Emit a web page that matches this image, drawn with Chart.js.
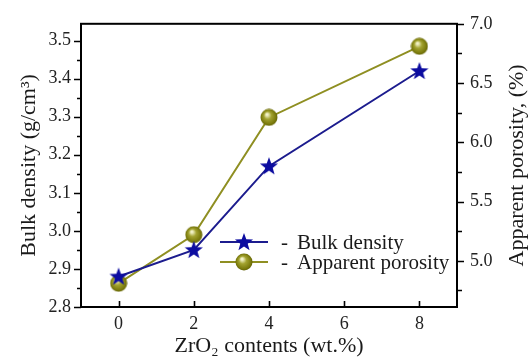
<!DOCTYPE html>
<html>
<head>
<meta charset="utf-8">
<script src="https://cdn.jsdelivr.net/npm/chart.js@4.4.1/dist/chart.umd.min.js"></script>
<style>
  html, body { margin: 0; padding: 0; background: #fff; }
  #wrap { width: 530px; height: 363px; position: relative; }
</style>
</head>
<body>
<div id="wrap"><canvas id="c" width="530" height="363"></canvas></div>
<script>
// ---- data ----
const zro2Contents = [0, 2, 4, 8];
const bulkDensity = [2.88, 2.95, 3.17, 3.42];
const apparentPorosity = [4.81, 5.22, 6.21, 6.81];

const xTicks = [0, 2, 4, 6, 8];
const yMajorTicks = [2.8, 2.9, 3.0, 3.1, 3.2, 3.3, 3.4, 3.5];
const yMinorTicks = [2.85, 2.95, 3.05, 3.15, 3.25, 3.35, 3.45];
const y2MajorTicks = [5.0, 5.5, 6.0, 6.5, 7.0];
const y2MinorTicks = [4.75, 5.25, 5.75, 6.25, 6.75];

const xTitle = 'ZrO\u2082 contents (wt.%)';
const yTitle = 'Bulk density (g/cm\u00B3)';
const y2Title = 'Apparent porosity, (%)';
const legendLabels = ['Bulk density', 'Apparent porosity'];

const BLUE = '#1c1c8e';
const OLIVE = '#8f8f22';
const SERIF = '"Liberation Serif", "Times New Roman", serif';

// ---- marker images ----
function makeStar() {
  const c = document.createElement('canvas');
  c.width = 22; c.height = 22;
  const g = c.getContext('2d');
  g.beginPath();
  const cx = 11, cy = 11.5, R = 9.5, r = 3.9;
  for (let i = 0; i < 10; i++) {
    const rad = i % 2 === 0 ? R : r;
    const a = -Math.PI / 2 + i * Math.PI / 5;
    const px = cx + rad * Math.cos(a), py = cy + rad * Math.sin(a);
    if (i === 0) g.moveTo(px, py); else g.lineTo(px, py);
  }
  g.closePath();
  g.fillStyle = '#0c0ca0';
  g.fill();
  return c;
}
function makeSphere() {
  const c = document.createElement('canvas');
  c.width = 18; c.height = 18;
  const g = c.getContext('2d');
  const grad = g.createRadialGradient(7, 6, 1, 9, 9, 9);
  grad.addColorStop(0, '#f2f2c8');
  grad.addColorStop(0.35, '#a3a330');
  grad.addColorStop(0.8, '#7a7a0c');
  grad.addColorStop(1, '#5c5c04');
  g.beginPath();
  g.arc(9, 9, 8.5, 0, Math.PI * 2);
  g.fillStyle = grad;
  g.fill();
  return c;
}
const starImg = makeStar();
const sphereImg = makeSphere();

// ---- custom frame, ticks, right title and legend ----
const framePlugin = {
  id: 'frame',
  beforeDatasetsDraw(chart) {
    const { ctx, chartArea: a, scales } = chart;
    ctx.save();
    ctx.strokeStyle = '#000';
    ctx.lineWidth = 2;
    ctx.strokeRect(a.left, a.top, a.right - a.left, a.bottom - a.top);
    ctx.lineWidth = 1.6;
    ctx.beginPath();
    xTicks.forEach(v => {
      const px = Math.round(scales.x.getPixelForValue(v)) + 0.5;
      ctx.moveTo(px, a.bottom); ctx.lineTo(px, a.bottom - 6);
    });
    yMajorTicks.forEach(v => {
      const py = Math.round(scales.y.getPixelForValue(v)) + 0.5;
      ctx.moveTo(a.left, py); ctx.lineTo(a.left - 7, py);
    });
    yMinorTicks.forEach(v => {
      const py = Math.round(scales.y.getPixelForValue(v)) + 0.5;
      ctx.moveTo(a.left, py); ctx.lineTo(a.left - 4, py);
    });
    y2MajorTicks.forEach(v => {
      const py = Math.round(scales.y2.getPixelForValue(v)) + 0.5;
      ctx.moveTo(a.right, py); ctx.lineTo(a.right + 7, py);
    });
    y2MinorTicks.forEach(v => {
      const py = Math.round(scales.y2.getPixelForValue(v)) + 0.5;
      ctx.moveTo(a.right, py); ctx.lineTo(a.right + 5, py);
    });
    ctx.stroke();
    ctx.restore();
  },
  afterDraw(chart) {
    const { ctx, chartArea: a } = chart;
    ctx.save();
    ctx.translate(517, (a.top + a.bottom) / 2);
    ctx.rotate(-Math.PI / 2);
    ctx.font = '22px ' + SERIF;
    ctx.fillStyle = '#1a1a1a';
    ctx.textAlign = 'center';
    ctx.textBaseline = 'middle';
    ctx.fillText(y2Title, 0, 0);
    ctx.restore();

    const imgs = [starImg, sphereImg];
    const rows = [242, 262];
    chart.data.datasets.forEach((ds, i) => {
      const y = rows[i];
      ctx.save();
      ctx.strokeStyle = ds.borderColor;
      ctx.lineWidth = 2;
      ctx.beginPath();
      ctx.moveTo(220, y); ctx.lineTo(268, y);
      ctx.stroke();
      const im = imgs[i];
      ctx.drawImage(im, 244 - im.width / 2, y - im.height / 2);
      ctx.font = '21px ' + SERIF;
      ctx.fillStyle = '#1a1a1a';
      ctx.textBaseline = 'middle';
      ctx.fillText('-', 281, y + 1);
      ctx.fillText(legendLabels[i], 297, y + 1);
      ctx.restore();
    });
  }
};

new Chart(document.getElementById('c'), {
  type: 'line',
  data: {
    datasets: [
      {
        label: legendLabels[0],
        data: zro2Contents.map((x, i) => ({ x, y: bulkDensity[i] })),
        yAxisID: 'y',
        borderColor: BLUE,
        borderWidth: 2,
        pointStyle: starImg,
        pointRadius: 9,
        pointHoverRadius: 9,
        tension: 0
      },
      {
        label: legendLabels[1],
        data: zro2Contents.map((x, i) => ({ x, y: apparentPorosity[i] })),
        yAxisID: 'y2',
        borderColor: OLIVE,
        borderWidth: 2,
        pointStyle: sphereImg,
        pointRadius: 8,
        pointHoverRadius: 8,
        tension: 0
      }
    ]
  },
  options: {
    responsive: false,
    animation: false,
    events: [],
    layout: { padding: { left: 12, right: 0, top: 20, bottom: 0 } },
    plugins: { legend: { display: false }, tooltip: { enabled: false } },
    scales: {
      x: {
        type: 'linear',
        min: -1, max: 9,
        afterBuildTicks: s => { s.ticks = xTicks.map(v => ({ value: v })); },
        afterFit: s => { s.height = 56; },
        grid: { display: false, drawTicks: false },
        border: { display: false },
        ticks: { color: '#222', padding: 6, font: { family: SERIF, size: 18 }, maxRotation: 0 },
        title: { display: true, text: xTitle, color: '#1a1a1a', font: { family: SERIF, size: 22 } }
      },
      y: {
        type: 'linear', position: 'left',
        min: 2.8, max: 3.544,
        afterBuildTicks: s => { s.ticks = yMajorTicks.map(v => ({ value: v })); },
        afterFit: s => { s.width = 69; },
        grid: { display: false, drawTicks: false },
        border: { display: false },
        ticks: { color: '#222', padding: 10, font: { family: SERIF, size: 18 }, callback: v => v.toFixed(1) },
        title: { display: true, text: yTitle, color: '#1a1a1a', font: { family: SERIF, size: 22 } }
      },
      y2: {
        type: 'linear', position: 'right',
        min: 4.61, max: 7.0,
        afterBuildTicks: s => { s.ticks = y2MajorTicks.map(v => ({ value: v })); },
        afterFit: s => { s.width = 73; },
        grid: { display: false, drawTicks: false },
        border: { display: false },
        ticks: { color: '#222', padding: 13, font: { family: SERIF, size: 18 }, callback: v => v.toFixed(1) }
      }
    }
  },
  plugins: [framePlugin]
});
</script>
</body>
</html>
